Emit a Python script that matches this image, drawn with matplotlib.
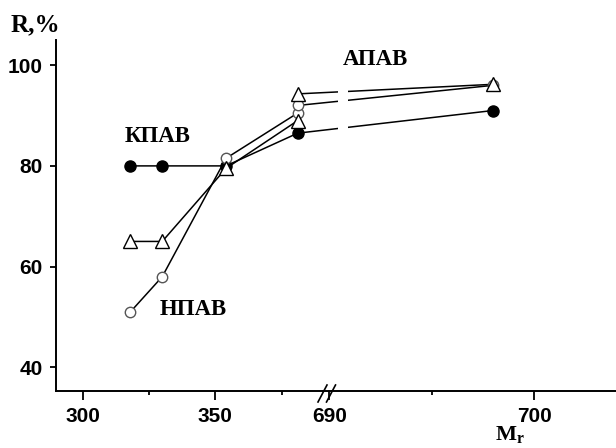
import numpy as np
import matplotlib
matplotlib.use('Agg')
import matplotlib.pyplot as plt

# data: molar mass vs removal degree R, %
x_kpav = [318, 330, 354, 381, 698]
r_kpav = [80, 80, 80, 86.5, 91]

x_npav = [318, 330, 354, 381, 381, 698]
r_npav = [51, 58, 81.5, 90.5, 92, 96]

x_apav = [318, 330, 354, 381, 381, 698]
r_apav = [65, 65, 79.5, 89, 94.3, 96.2]

xticks_major = [300, 350, 690, 700]
xticks_minor = [325, 375, 695]
yticks = [40, 60, 80, 100]

BRK = 392.9   # position of 690 on the left-branch units
K = 7.71      # stretch of the right branch

def fwd(x):
    x = np.asarray(x, dtype=float)
    return np.where(x <= BRK, x, np.where(x >= 690, BRK + (x - 690) * K, BRK))

def inv(u):
    u = np.asarray(u, dtype=float)
    return np.where(u <= BRK, u, 690 + (u - BRK) / K)

plt.rcParams['font.family'] = ['Liberation Sans', 'DejaVu Sans']
plt.rcParams['mathtext.fontset'] = 'custom'
plt.rcParams['mathtext.bf'] = 'Liberation Serif:bold'
plt.rcParams['mathtext.rm'] = 'Liberation Serif:bold'

W, H = 616, 448
fig = plt.figure(figsize=(W / 100, H / 100), dpi=100)
ax = fig.add_axes([56 / W, 1 - 391 / H, (616 - 56) / W, (391 - 40) / H])
ax.set_xscale('function', functions=(fwd, inv))
ax.set_xlim(290, 704)
ax.set_ylim(35.3, 105)

# lines
for xs, ys in [(x_kpav, r_kpav), (x_npav, r_npav), (x_apav, r_apav)]:
    ax.plot(xs, ys, '-', color='black', lw=1.1, zorder=2)

# white gap through the lines at the axis break
ax.axvspan(690.44, 690.9, ymin=0.03, ymax=1, color='white', lw=0, zorder=3)

ax.plot(x_kpav, r_kpav, 'o', ms=8, mfc='black', mec='black', ls='none', zorder=4)
ax.plot(x_npav, r_npav, 'o', ms=7.5, mfc='white', mec='#555555', mew=1.0, ls='none', zorder=5)
ax.plot(x_apav, r_apav, '^', ms=10.5, mfc='white', mec='black', mew=1.0, ls='none', zorder=6)

ax.spines['top'].set_visible(False)
ax.spines['right'].set_visible(False)
ax.spines['left'].set_linewidth(1.4)
ax.spines['bottom'].set_linewidth(1.4)

ax.set_xticks(xticks_major)
ax.set_xticklabels([str(v) for v in xticks_major])
ax.set_xticks(xticks_minor, minor=True)
ax.set_yticks(yticks)
ax.set_yticklabels([str(v) for v in yticks])
ax.tick_params(axis='x', which='major', length=6.5, width=1.3, pad=5, labelsize=15)
ax.tick_params(axis='x', which='minor', length=3, width=1.3)
ax.tick_params(axis='y', which='major', length=4.5, width=1.3, pad=5, labelsize=15)
ax.tick_params(axis='y', which='minor', left=False)
for lab in ax.get_xticklabels() + ax.get_yticklabels():
    lab.set_fontweight('bold')

# axis break marks
for dx in (0, 8.5):
    fig.add_artist(plt.Line2D([(318 + dx) / W, (327 + dx) / W],
                              [1 - 402 / H, 1 - 385 / H],
                              color='black', lw=1.2))

serif = dict(family='Liberation Serif', fontweight='bold')
fig.text(35.5 / W, 1 - 25 / H, 'R,%', ha='center', va='center', fontsize=18, **serif)
fig.text(157.5 / W, 1 - 137 / H, 'КПАВ', ha='center', va='center', fontsize=16.5, **serif)
fig.text(375.5 / W, 1 - 59.5 / H, 'АПАВ', ha='center', va='center', fontsize=16.5, **serif)
fig.text(193.5 / W, 1 - 309.5 / H, 'НПАВ', ha='center', va='center', fontsize=16.5, **serif)
fig.text(510 / W, 1 - 446 / H, r'$\mathbf{M}_\mathbf{r}$', ha='center', va='bottom', fontsize=16)

fig.savefig('out.png', dpi=100)
